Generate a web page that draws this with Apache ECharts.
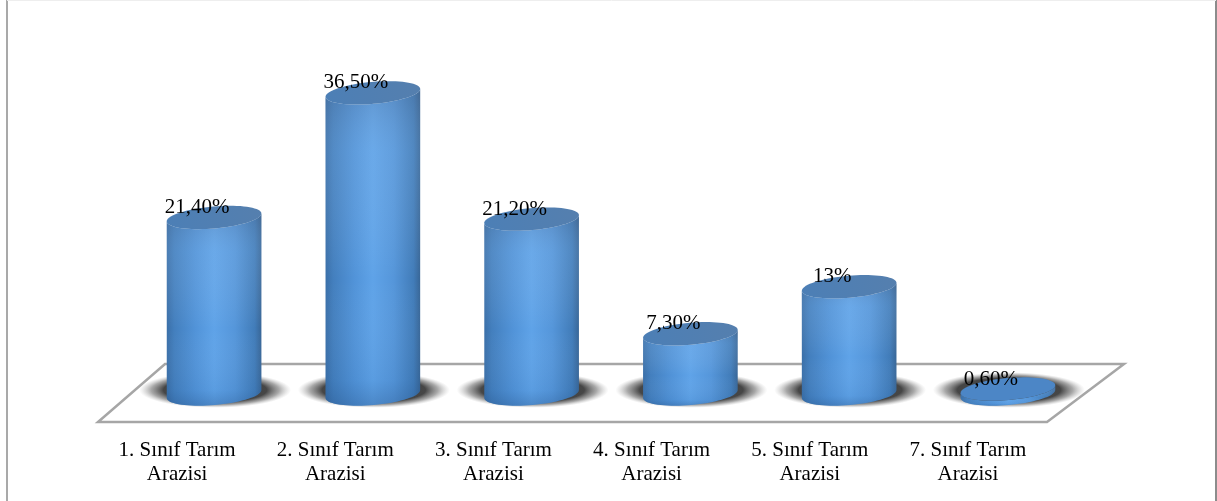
<!DOCTYPE html>
<html><head><meta charset="utf-8">
<style>html,body{margin:0;padding:0;background:#fff}#c{width:1217px;height:501px}</style>
<script src="https://cdn.jsdelivr.net/npm/echarts@6/dist/echarts.min.js"></script>
</head><body><div id="c"></div>
<script>
const categories = ['1. Sınıf Tarım\nArazisi','2. Sınıf Tarım\nArazisi','3. Sınıf Tarım\nArazisi','4. Sınıf Tarım\nArazisi','5. Sınıf Tarım\nArazisi','7. Sınıf Tarım\nArazisi'];
const values = [21.4, 36.5, 21.2, 7.3, 13, 0.6];
const valueLabels = ['21,40%','36,50%','21,20%','7,30%','13%','0,60%'];

const SERIF = '"Liberation Serif","Times New Roman",serif';
const DEPTH_X = 37, DEPTH_STEP = 0.6, RX = 47.5, RY = 11, TILT = -5 * Math.PI / 180;
const cosT = Math.cos(TILT), sinT = Math.sin(TILT);
function ellipsePt(cx, cy, a, rx, ry) {
  const x = rx * Math.cos(a), y = ry * Math.sin(a);
  return [cx + x * cosT - y * sinT, cy + x * sinT + y * cosT];
}
function ellipsePoly(cx, cy, rx, ry) {
  const p = [];
  for (let i = 0; i < 72; i++) p.push(ellipsePt(cx, cy, i / 72 * 2 * Math.PI, rx, ry));
  return p;
}
function bodyPoly(cx, top, base) {
  const p = [];
  for (let i = 0; i <= 36; i++) p.push(ellipsePt(cx, base, i / 36 * Math.PI, RX, RY));
  for (let i = 36; i >= 0; i--) p.push(ellipsePt(cx, top, i / 36 * Math.PI, RX, RY));
  return p;
}
const bodyFill = new echarts.graphic.LinearGradient(0, 0, 1, 0, [
  {offset:0, color:'#3a6fa8'},{offset:0.08, color:'#437fbe'},{offset:0.3, color:'#5193d8'},
  {offset:0.5, color:'#5fa3e8'},{offset:0.72, color:'#5596da'},{offset:0.93, color:'#417cb9'},{offset:1, color:'#386697'}
]);
const sheen = new echarts.graphic.LinearGradient(0, 0, 0, 1, [
  {offset:0, color:'rgba(90,110,140,0.30)'},{offset:0.2, color:'rgba(170,205,240,0.15)'},
  {offset:0.6, color:'rgba(255,255,255,0)'},{offset:0.92, color:'rgba(30,80,140,0.08)'},{offset:1, color:'rgba(30,70,120,0.30)'}
]);
const capFill = new echarts.graphic.LinearGradient(0, 1, 1, 0, [
  {offset:0, color:'#4c7fb6'},{offset:1, color:'#557fae'}
]);
const shadowFill = new echarts.graphic.RadialGradient(0.5, 0.5, 0.5, [
  {offset:0, color:'rgba(60,60,60,1)'},{offset:0.68, color:'rgba(70,70,70,1)'},
  {offset:0.84, color:'rgba(110,110,110,0.6)'},{offset:1, color:'rgba(170,170,170,0)'}
]);

function renderCylinder(params, api) {
  const i = api.value(0), v = api.value(1);
  const basePt = api.coord([i, 0]), topPt = api.coord([i, v]);
  const cx = basePt[0] + DEPTH_X + DEPTH_STEP * i, base = basePt[1], top = topPt[1];
  const small = v < 2;
  return {type:'group', children:[
    {type:'circle', z2:1, x:cx+1, y:base-4, scaleY:0.235, shape:{cx:0, cy:0, r:76}, style:{fill:shadowFill}},
    {type:'polygon', z2:2, shape:{points:bodyPoly(cx, top, base)}, style:{fill:bodyFill}},
    {type:'polygon', z2:3, shape:{points:bodyPoly(cx, top, base)}, style:{fill:sheen}},
    {type:'polygon', z2:4, shape:{points:ellipsePoly(cx, top, RX, RY)}, style:{fill: small ? '#4c86c6' : capFill}},
    {type:'text', z2:5, style:{text:valueLabels[i], x:cx-17, y:top-10, align:'center', verticalAlign:'middle',
      font:'21px '+SERIF, fill:'#000'}}
  ]};
}

const chart = echarts.init(document.getElementById('c'), null, {renderer:'canvas'});
chart.setOption({
  animation:false,
  backgroundColor:'#fff',
  grid:{left:98, right:170, top:64, bottom:107},
  xAxis:{type:'category', data:categories, axisLine:{show:false}, axisTick:{show:false}, splitLine:{show:false},
    axisLabel:{margin:44, color:'#000', fontFamily:SERIF, fontSize:21, lineHeight:24, interval:0}},
  yAxis:{type:'value', min:0, max:40, show:false},
  graphic:[
    {type:'polygon', z:-1, shape:{points:[[98,422],[1047,422],[1124,364],[165,364]]},
      style:{fill:'#fff', stroke:'#a6a6a6', lineWidth:2.5}},
    {type:'line', z:-1, shape:{x1:7,y1:0,x2:7,y2:501}, style:{stroke:'#a9a9a9', lineWidth:2}},
    {type:'line', z:-1, shape:{x1:1216,y1:0,x2:1216,y2:501}, style:{stroke:'#8c8c8c', lineWidth:2}},
    {type:'line', z:-1, shape:{x1:7,y1:0.5,x2:1216,y2:0.5}, style:{stroke:'#eeeeee', lineWidth:1}}
  ],
  series:[{type:'custom', coordinateSystem:'cartesian2d', clip:false, z:5,
    renderItem:renderCylinder, encode:{x:0,y:1},
    data:values.map((v,i)=>[i,v])}]
});
</script></body></html>
